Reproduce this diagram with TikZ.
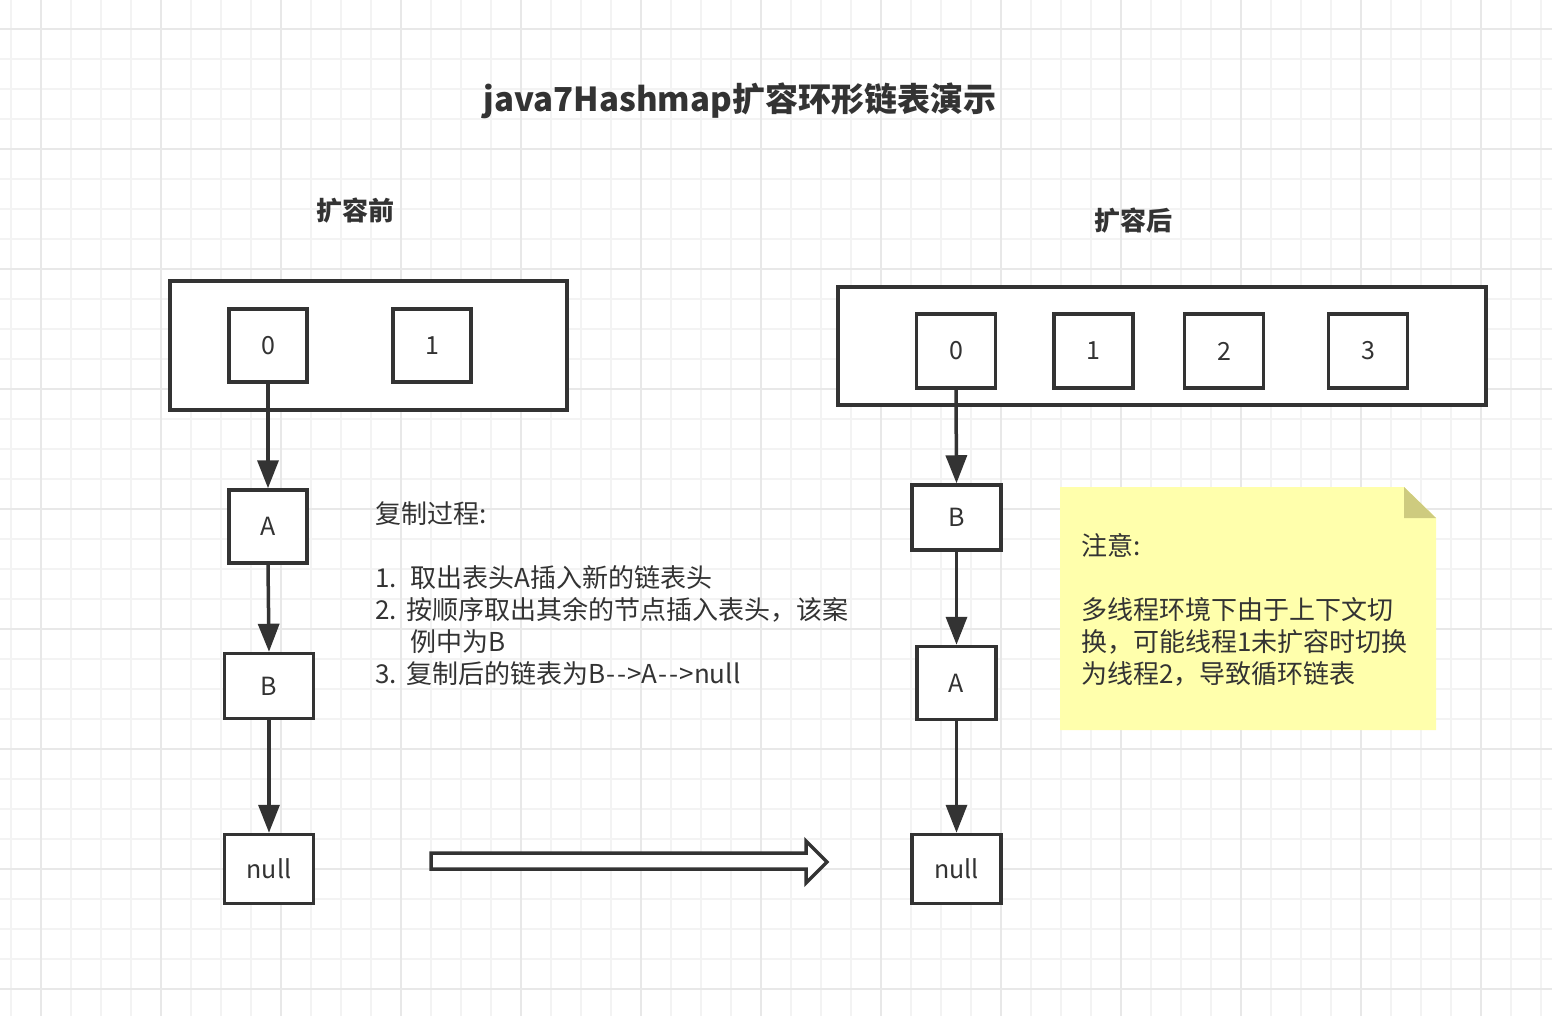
\documentclass[tikz,border=0pt]{standalone}
\usepackage{fontspec}
\setmainfont{Noto Sans CJK SC}
\usetikzlibrary{arrows.meta}
\definecolor{ink}{HTML}{333333}
\definecolor{gridminor}{HTML}{F3F3F3}
\definecolor{gridmajor}{HTML}{E8E8E8}
\definecolor{notebg}{RGB}{255,255,172}
\definecolor{notefold}{RGB}{206,203,127}
\begin{document}
\begin{tikzpicture}[x=1pt,y=-1pt,
  frame/.style={draw=ink, line width=3.5pt, fill=white},
  cell/.style={draw=ink, line width=3.5pt, fill=white, inner sep=0pt, text=ink,
    font=\fontsize{25pt}{30pt}\selectfont},
  link/.style={draw=ink, line width=3.5pt, -{Triangle[length=28pt,width=21pt]}},
  heading/.style={inner sep=0pt, text=ink, font=\fontsize{26pt}{30pt}\selectfont\bfseries},
  txt/.style={inner sep=0pt, text=ink, align=left,
    font=\fontsize{26pt}{32pt}\selectfont},
  gridmin/.style={draw=gridminor, line width=1.6pt},
  gridmaj/.style={draw=gridmajor, line width=1.8pt}]
% canvas
\fill[white] (0,0) rectangle (1552,1016);
\useasboundingbox (0,0) rectangle (1552,1016);
% grid
\foreach \i in {0,...,51} {\draw[gridmin] ({10.7+30*\i},0) -- ({10.7+30*\i},1016);}
\foreach \j in {0,...,34} {\draw[gridmin] (0,{-1+30*\j}) -- (1552,{-1+30*\j});}
\foreach \i in {0,...,12} {\draw[gridmaj] ({40.7+120*\i},0) -- ({40.7+120*\i},1016);}
\foreach \j in {0,...,8} {\draw[gridmaj] (0,{29+120*\j}) -- (1552,{29+120*\j});}

% title and headings
\node[inner sep=0pt, text=ink, font=\fontsize{33pt}{40pt}\selectfont\bfseries] (title) at (740,101) {java7Hashmap扩容环形链表演示};
\node[heading] (lhead) at (355,211) {扩容前};
\node[heading] (rhead) at (1133,221) {扩容后};

% left: before resize
\node[frame, minimum width=397pt, minimum height=129pt] (lframe) at (368.5,345.5) {};
\node[cell, minimum width=78pt, minimum height=73pt] (l0) at (268,345.5) {0};
\node[cell, minimum width=78pt, minimum height=73pt] (l1) at (432,345.5) {1};
\node[cell, minimum width=78pt, minimum height=73pt] (lA) at (268,526.5) {A};
\node[cell, minimum width=89pt, minimum height=65pt] (lB) at (269,686) {B};
\node[cell, minimum width=89pt, minimum height=69pt] (lnull) at (269,869) {null};
\draw[link] (l0.south) -- (lA.north);
\draw[link] (lA.south) -- (lB.north);
\draw[link] (lB.south) -- (lnull.north);

% steps text
\node[txt, anchor=north west] (steps) at (375,501) {复制过程:\\[32pt]%
\makebox[35pt][l]{1.}取出表头A插入新的链表头\\
\makebox[31pt][l]{2.}按顺序取出其余的节点插入表头，该案\\
\hspace*{35pt}例中为B\\
\makebox[31pt][l]{3.}复制后的链表为B\kern1pt-\kern2pt-\kern1pt>A\kern1pt-\kern2pt-\kern1pt>null};

% big hollow arrow
\draw[draw=ink, line width=3.5pt, fill=white, line join=miter]
  (431,853) -- (806,853) -- (806,841) -- (827,862) -- (806,883) -- (806,869) -- (431,869) -- cycle;

% right: after resize
\node[frame, minimum width=648pt, minimum height=118pt] (rframe) at (1162,346) {};
\node[cell, minimum width=79pt, minimum height=74pt] (r0) at (956,351) {0};
\node[cell, minimum width=79pt, minimum height=74pt] (r1) at (1093.5,351) {1};
\node[cell, minimum width=79pt, minimum height=74pt] (r2) at (1224,351) {2};
\node[cell, minimum width=79pt, minimum height=74pt] (r3) at (1368,351) {3};
\node[cell, minimum width=89pt, minimum height=65pt] (rB) at (956.5,517.5) {B};
\node[cell, minimum width=79pt, minimum height=73pt] (rA) at (956.5,683) {A};
\node[cell, minimum width=89pt, minimum height=69pt] (rnull) at (956.5,869) {null};
\draw[link] (r0.south) -- (rB.north);
\draw[link] (rB.south) -- (rA.north);
\draw[link] (rA.south) -- (rnull.north);

% note
\fill[notebg] (1060,487) -- (1404,487) -- (1436,518) -- (1436,730) -- (1060,730) -- cycle;
\fill[notefold] (1404,487) -- (1404,518) -- (1436,518) -- cycle;
\node[txt, anchor=north west] (notetext) at (1081,533) {注意:\\[32pt]%
多线程环境下由于上下文切\\
换，可能线程1未扩容时切换\\
为线程2，导致循环链表};
\end{tikzpicture}
\end{document}
